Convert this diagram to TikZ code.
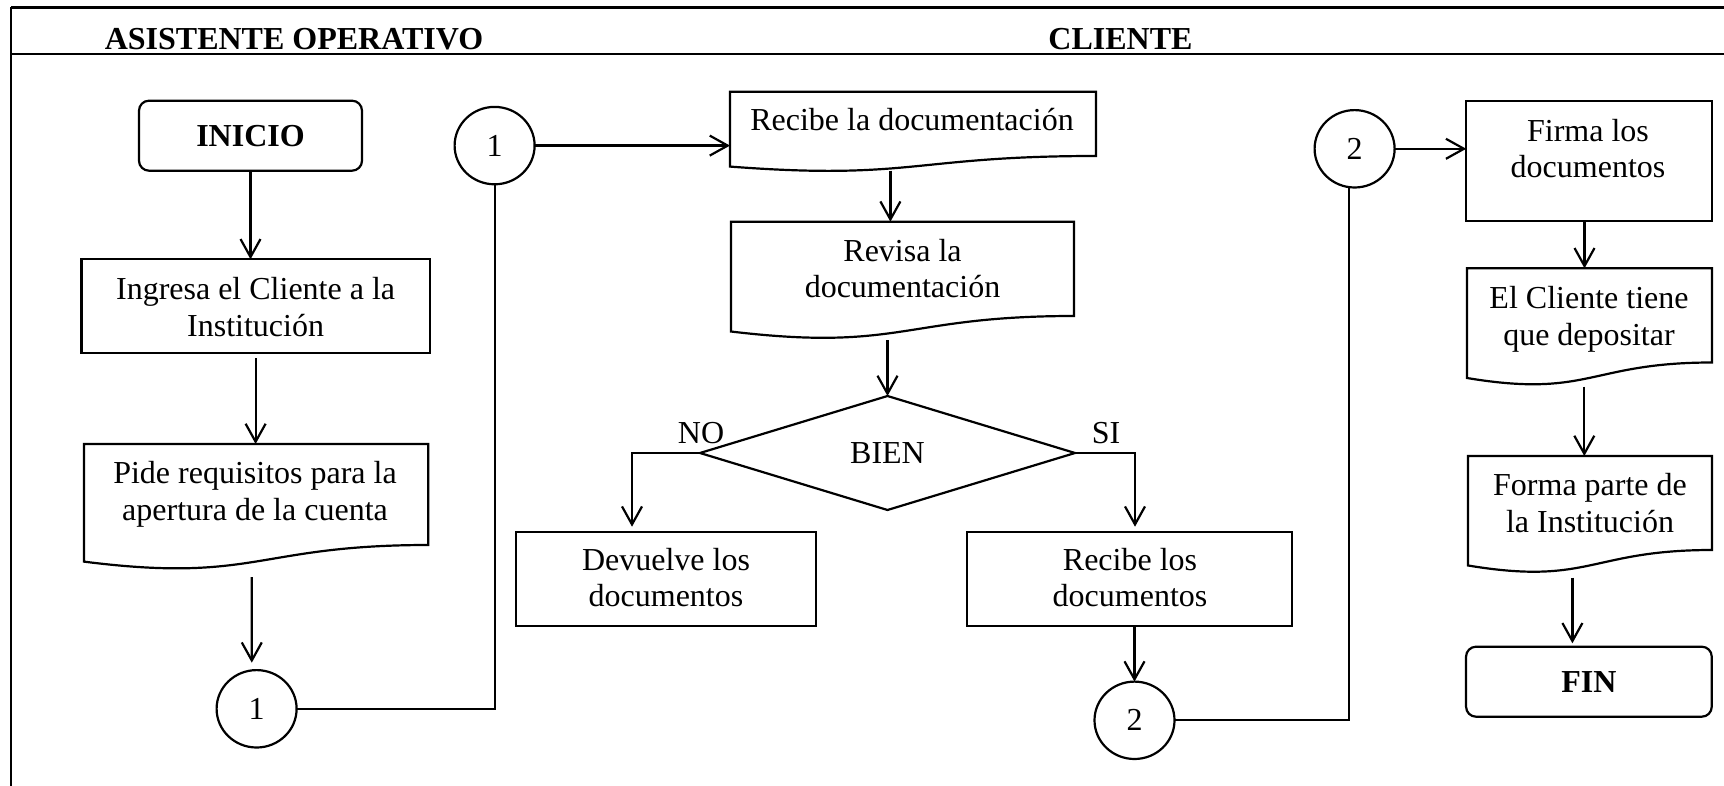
\documentclass[tikz,border=0pt]{standalone}
\usepackage{fontspec}
\setmainfont{Liberation Serif}
\usetikzlibrary{arrows.meta,shapes.geometric,calc}

% document symbol: straight top and sides, wavy bottom edge that
% ends lower on the left than on the right
\newcommand{\docoutline}[1]{%
  \draw[line width=1.1pt] let \p1=(#1.north west), \p2=(#1.south east) in
    (\x1,\y1) -- (\x2,\y1) -- (\x2,\y2)
    .. controls ({0.5*\x1+0.5*\x2},\y2) and ({0.5*\x1+0.5*\x2},{\y2-0.381*(\y1-\y2)})
    .. (\x1,{\y2-0.1646*(\y1-\y2)}) -- cycle;}

\tikzset{
  every node/.style={inner sep=0pt, outer sep=0pt},
  body/.style={font=\fontsize{16}{18.3}\selectfont},
  head/.style={font=\fontsize{16}{18.3}\selectfont\bfseries, anchor=base},
  stepbox/.style={draw, line width=1.1pt, rectangle},
  termbox/.style={draw, line width=1.1pt, rectangle, rounded corners=5pt,
    font=\fontsize{16}{18.3}\selectfont\bfseries},
  docbox/.style={rectangle},
  connector/.style={draw, line width=1.1pt, ellipse, minimum width=40pt,
    minimum height=38.7pt, body},
  decision/.style={draw, line width=1.1pt, diamond, minimum width=187.5pt,
    minimum height=57pt, body},
  txt/.style={body, align=center, anchor=north},
  lbl/.style={body, anchor=base},
  arr/.style={line width=1.1pt, -{Straight Barb[length=9pt,width=10pt]}},
  link/.style={line width=1.1pt},
}

\begin{document}
\begin{tikzpicture}[x=0.5pt, y=-0.5pt]
\useasboundingbox (0,0) rectangle (1724,786);

% frame and lane headers
\draw[line width=1.5pt] (11,7.3) -- (1730,7.3);
\draw[line width=1pt] (11,7.3) -- (11,792);
\draw[line width=1.2pt] (11,54.3) -- (1730,54.3);
\node[head] (h-asist) at (294,49.3) {ASISTENTE OPERATIVO};
\node[head] (h-cliente) at (1120.5,49.3) {CLIENTE};

% left column
\node[termbox, minimum width=111.5pt, minimum height=35pt] (inicio) at (250.5,135.7) {INICIO};
\node[stepbox, minimum width=174.15pt, minimum height=46.7pt] (ingresa) at (255.6,306) {};
\node[txt] (t-ingresa) at (255.6,277.3) {Ingresa el Cliente a la\\Institución};
\node[docbox, minimum width=172.15pt, minimum height=50.5pt] (pide) at (256.15,494.5) {};
\node[txt] (t-pide) at (255,461.3) {Pide requisitos para la\\apertura de la cuenta};
\node[connector] (c1a) at (256.6,708.8) {1};

% middle column
\node[connector] (c1b) at (494.6,145.6) {1};
\node[docbox, minimum width=183pt, minimum height=32.15pt] (recibe) at (913,123.85) {};
\node[txt] (t-recibe) at (912,108) {Recibe la documentación};
\node[docbox, minimum width=171.5pt, minimum height=47.15pt] (revisa) at (902.5,268.85) {};
\node[txt] (t-revisa) at (902.5,239) {Revisa la\\documentación};
\node[decision] (dia) at (887.5,453) {BIEN};
\node[lbl] (t-no) at (701,443.3) {NO};
\node[lbl] (t-si) at (1106,443.3) {SI};
\node[stepbox, minimum width=150pt, minimum height=47pt] (devuelve) at (666,578.7) {};
\node[txt] (t-devuelve) at (666,548) {Devuelve los\\documentos};
\node[stepbox, minimum width=162.3pt, minimum height=47pt] (recibelos) at (1129.3,578.7) {};
\node[txt] (t-recibelos) at (1130,548) {Recibe los\\documentos};
\node[connector] (c2a) at (1134.5,720.3) {2};

% right column
\node[connector] (c2b) at (1354.6,148.8) {2};
\node[stepbox, minimum width=122.9pt, minimum height=60pt] (firma) at (1589.1,161) {};
\node[txt] (t-firma) at (1588,119) {Firma los\\documentos};
\node[docbox, minimum width=122.5pt, minimum height=47.1pt] (cliente) at (1589.5,315.4) {};
\node[txt] (t-cliente) at (1589,286.3) {El Cliente tiene\\que depositar};
\node[docbox, minimum width=122.05pt, minimum height=47pt] (forma) at (1590,503) {};
\node[txt] (t-forma) at (1590,473.7) {Forma parte de\\la Institución};
\node[termbox, minimum width=122.85pt, minimum height=35pt] (fin) at (1588.9,681.7) {FIN};

% document outlines
\docoutline{pide}
\docoutline{recibe}
\docoutline{revisa}
\docoutline{cliente}
\docoutline{forma}

% connectors
\draw[arr] (inicio.south) -- (inicio.south |- ingresa.north);
\draw[arr] ($(ingresa.south)+(0,-2.8pt)$) -- (ingresa.south |- pide.north);
\draw[arr] ($(pide.south)+(-2.2pt,-16pt)$) -- ($(c1a.north)+(-2.4pt,3.7pt)$);
\draw[link] (c1a.east) -| (c1b.south);
\draw[arr] (c1b.east) -- (c1b.east -| recibe.west);
\draw[arr] ($(recibe.south)+(-11.3pt,-7.3pt)$) -- ($(recibe.south |- revisa.north)+(-11.3pt,0)$);
\draw[arr] ($(revisa.south -| dia.north)+(0,-12pt)$) -- (dia.north);
\coordinate (noturn) at ($(dia.west)+(-34pt,0)$);
\draw[arr] (dia.west) -- (noturn) -- ($(noturn |- devuelve.north)+(0,2.5pt)$);
\coordinate (siturn) at ($(dia.east)+(30pt,0)$);
\draw[arr] (dia.east) -- (siturn) -- ($(siturn |- recibelos.north)+(0,2.5pt)$);
\draw[arr] (recibelos.south -| c2a.north) -- (c2a.north);
\draw[link] (c2a.east) -| ($(c2b.south)+(-2.9pt,0)$);
\draw[arr] (c2b.east) -- (c2b.east -| firma.west);
\draw[arr] ($(firma.south)+(-2.3pt,0)$) -- ($(firma.south |- cliente.north)+(-2.3pt,0)$);
\draw[arr] ($(cliente.south)+(-2.6pt,-12pt)$) -- ($(cliente.south |- forma.north)+(-2.6pt,0)$);
\draw[arr] ($(forma.south)+(-8.8pt,-13.8pt)$) -- ($(forma.south |- fin.north)+(-8.8pt,1.7pt)$);
\end{tikzpicture}
\end{document}
